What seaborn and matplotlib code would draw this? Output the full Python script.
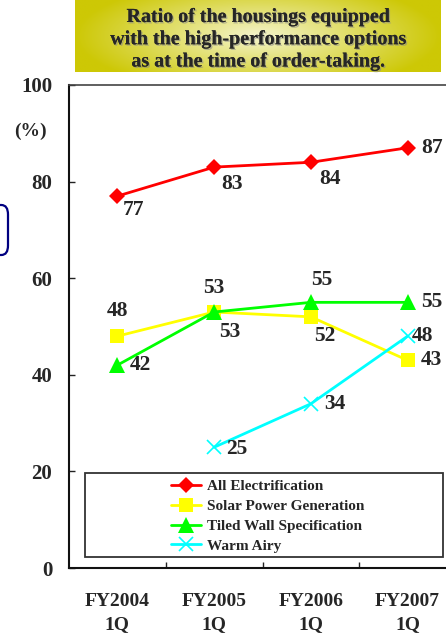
import numpy as np
import pandas as pd
import seaborn as sns
import matplotlib.pyplot as plt
import matplotlib.patheffects as pe
from matplotlib.patches import Rectangle, FancyBboxPatch

# Data
periods = ["FY2004\n1Q", "FY2005\n1Q", "FY2006\n1Q", "FY2007\n1Q"]
series_names = ["All Electrification", "Solar Power Generation",
                "Tiled Wall Specification", "Warm Airy"]
all_electrification = [77, 83, 84, 87]
solar_power = [48, 53, 52, 43]
tiled_wall = [42, 53, 55, 55]
warm_airy = [np.nan, 25, 34, 48]

# label offsets in pixels (dx, dy with y going up)
label_offsets = {
    "All Electrification": [(16, -14), (18, -17), (19, -17), (24, 0)],
    "Solar Power Generation": [(0, 25), (0, 24), (14, -19), (24, 0)],
    "Tiled Wall Specification": [(23, 0), (16, -20), (11, 22), (24, 0)],
    "Warm Airy": [None, (23, -2), (24, 0), (15, 0)],
}

styles = {
    "All Electrification": dict(color="#ff0000", marker="D", markersize=8.5, mew=0),
    "Solar Power Generation": dict(color="#ffff00", marker="s", markersize=10, mew=0),
    "Tiled Wall Specification": dict(color="#00ff00", marker="^", markersize=11, mew=0),
    "Warm Airy": dict(color="#00ffff", marker="x", markersize=10, mew=1.2),
}

values = [all_electrification, solar_power, tiled_wall, warm_airy]
rows = []
for name, vals in zip(series_names, values):
    for i, v in enumerate(vals):
        rows.append({"series": name, "pos": i, "value": v})
df = pd.DataFrame(rows)

sns.set_style("white")
plt.rcParams["font.family"] = ["Liberation Serif", "DejaVu Serif"]
plt.rcParams["font.weight"] = "bold"

W, H = 446, 635
fig = plt.figure(figsize=(W / 100, H / 100), dpi=100)


def fx(px):
    return px / W


def fy(py):
    return 1 - py / H


ax = fig.add_axes([fx(69), fy(568), fx(456) - fx(69), fy(85) - fy(568)])

for name in series_names:
    sub = df[df["series"] == name].dropna()
    st = styles[name]
    sns.lineplot(data=sub, x="pos", y="value", ax=ax, label=name,
                 color=st["color"], marker=st["marker"],
                 markersize=st["markersize"], markeredgewidth=st["mew"],
                 markeredgecolor=st["color"], linewidth=2.0, sort=False)
    for (i, v), off in zip(enumerate(values[series_names.index(name)]),
                           label_offsets[name]):
        if off is None or np.isnan(v):
            continue
        ax.annotate(str(v), (i, v), xytext=off, textcoords="offset pixels",
                    ha="center", va="center", fontsize=15.5, fontweight="bold")

ax.set_xlim(-0.5, 3.5)
ax.set_ylim(0, 100)
ax.set_xticks(range(4))
ax.set_xticklabels(periods, fontsize=14, fontweight="bold", linespacing=1.45)
ax.set_xticks([0.5, 1.5, 2.5], minor=True)
ax.tick_params(axis="x", which="major", length=0, pad=18)
ax.tick_params(axis="x", which="minor", direction="in", length=4.5,
               width=1.0, color="#222222", bottom=True)
ax.set_yticks(range(0, 101, 20))
ax.set_yticklabels([str(t) for t in range(0, 101, 20)], fontsize=15,
                   fontweight="bold")
ax.tick_params(axis="y", direction="in", length=4, width=1.0,
               color="#222222", pad=12, left=True)
ax.set_xlabel("")
ax.set_ylabel("")
for side in ["left", "bottom"]:
    ax.spines[side].set_color("#111111")
    ax.spines[side].set_linewidth(1.5)
ax.spines["top"].set_color("#444444")
ax.spines["top"].set_linewidth(1.2)
ax.spines["right"].set_visible(False)

handles, labels = ax.get_legend_handles_labels()
ax.get_legend().remove()

# legend box
fig.add_artist(Rectangle((fx(85), fy(557)), fx(443) - fx(85), fy(473) - fy(557),
                         transform=fig.transFigure, facecolor="white",
                         edgecolor="#333333", linewidth=1.3, zorder=3))
fig.legend(handles, labels, loc="upper left",
           bbox_to_anchor=(fx(160), fy(469)), frameon=False,
           prop={"family": "Liberation Serif", "weight": "bold", "size": 11},
           handlelength=2.0, handletextpad=0.35, labelspacing=0.40,
           borderpad=0.2)

# "(%)" unit label
fig.text(fx(30), fy(131), "(%)", ha="center", va="center", fontsize=14,
         fontweight="bold")

# title box with light center gradient
tax = fig.add_axes([fx(75), fy(72), fx(441) - fx(75), fy(0) - fy(72)])
gx, gy = np.meshgrid(np.linspace(-1, 1, 300), np.linspace(-1, 1, 60))
r = np.clip(np.sqrt((gx / 1.0) ** 2 + (gy / 1.6) ** 2), 0, 1)
edge = np.array([205, 200, 5]) / 255
center = np.array([244, 244, 205]) / 255
img = center[None, None, :] * (1 - r[..., None]) + edge[None, None, :] * r[..., None]
tax.imshow(img, aspect="auto", extent=[0, 1, 0, 1])
tax.set_axis_off()
title = "Ratio of the housings equipped\nwith the high-performance options\nas at the time of order-taking."
tax.text(0.5, 0.455, title, ha="center", va="center", fontsize=14.4,
         fontweight="bold", linespacing=1.15,
         path_effects=[pe.withSimplePatchShadow(offset=(1, -1),
                                                shadow_rgbFace="#888888",
                                                alpha=0.6),
                       pe.Normal()])

# partial navy rounded box on the left edge
fig.add_artist(FancyBboxPatch((fx(-30), fy(255)), fx(38), fy(205) - fy(255),
                              boxstyle="round,pad=0,rounding_size=0.015",
                              transform=fig.transFigure, facecolor="none",
                              edgecolor="#000080", linewidth=1.6))

fig.savefig("out.png", dpi=100)
